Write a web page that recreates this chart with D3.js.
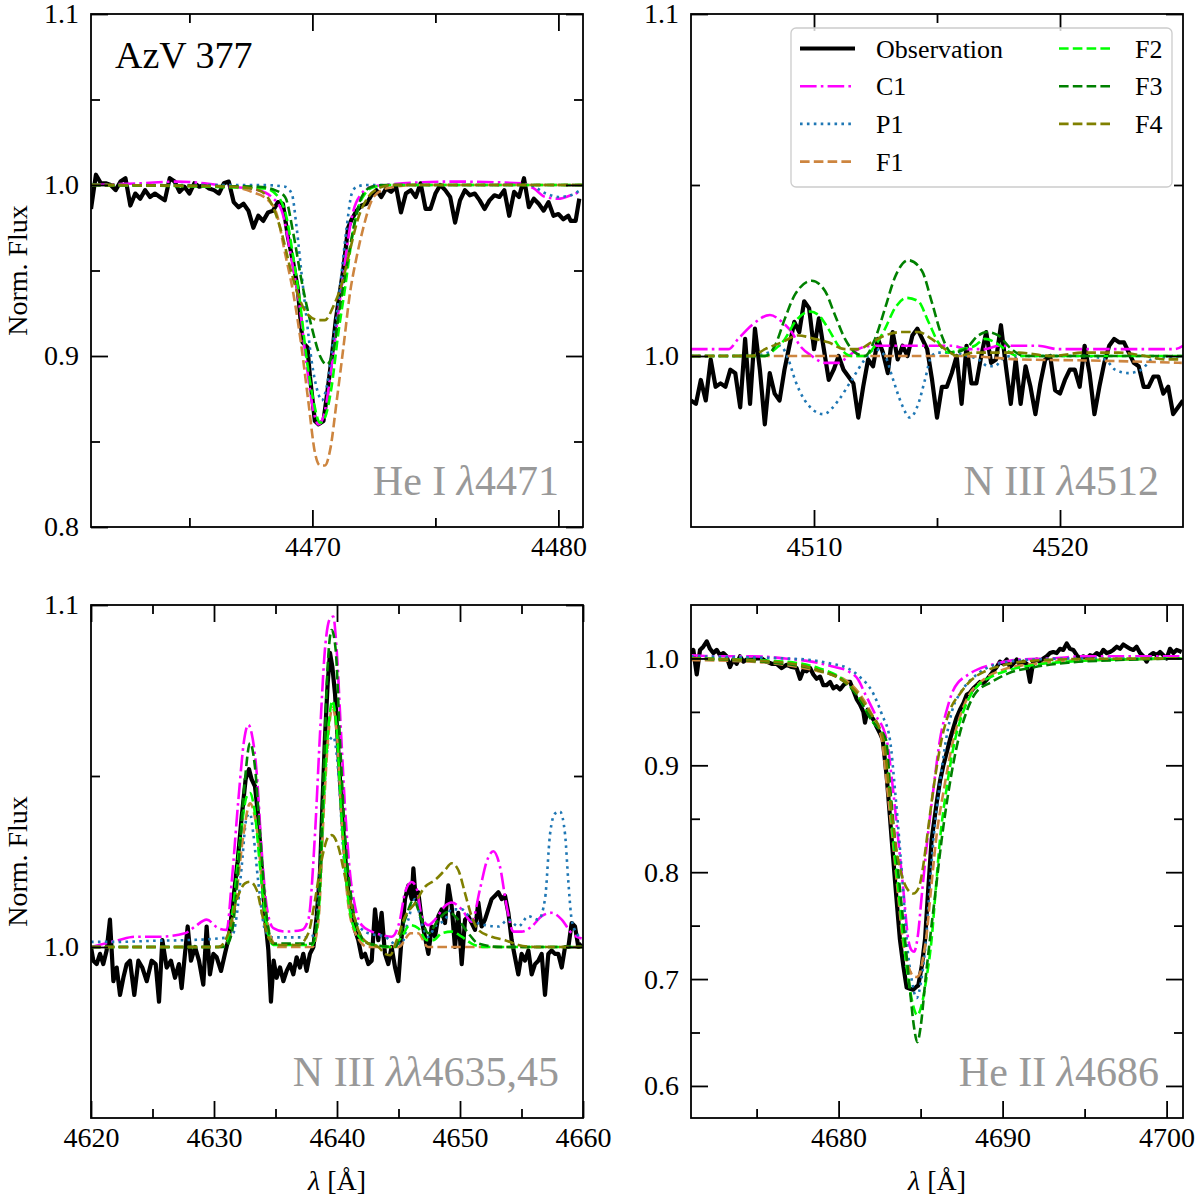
<!DOCTYPE html>
<html lang="en">
<head>
  <meta charset="utf-8">
  <title>AzV 377 line fits</title>
  <style>
    body { margin: 0; background: #fff; }
    svg text { font-family: "Liberation Serif", "Times New Roman", serif; }
  </style>
</head>
<body>
  <div id="chart"></div>

  <script src="https://d3js.org/d3.v7.min.js"></script>
  <script type="text/javascript">
    // ---------- He I 4471 ----------
    const obs4471 = [[4461.0,0.986],[4461.2,1.006],[4461.4,1.001],[4461.6,1.001],[4461.8,1.000],[4462.0,0.997],[4462.2,1.002],[4462.4,1.004],[4462.6,0.988],[4462.8,0.995],[4463.0,0.992],[4463.2,0.997],[4463.4,0.993],[4463.6,0.995],[4463.8,0.993],[4464.0,0.991],[4464.2,1.004],[4464.4,1.002],[4464.6,0.996],[4464.8,0.999],[4465.0,0.995],[4465.2,1.001],[4465.4,0.999],[4465.6,1.000],[4465.8,0.998],[4466.0,0.997],[4466.2,0.995],[4466.4,1.001],[4466.6,1.002],[4466.8,0.990],[4467.0,0.987],[4467.2,0.989],[4467.4,0.985],[4467.6,0.975],[4467.8,0.982],[4468.0,0.979],[4468.2,0.984],[4468.4,0.985],[4468.6,0.990],[4468.8,0.989],[4469.0,0.970],[4469.2,0.956],[4469.4,0.940],[4469.6,0.908],[4469.8,0.905],[4469.9,0.888],[4470.1,0.862],[4470.25,0.860],[4470.45,0.862],[4470.6,0.878],[4470.8,0.901],[4470.95,0.921],[4471.1,0.936],[4471.25,0.950],[4471.45,0.975],[4471.6,0.980],[4471.8,0.985],[4472.0,0.988],[4472.2,0.989],[4472.4,0.994],[4472.6,0.997],[4472.8,0.993],[4473.0,0.998],[4473.2,0.996],[4473.4,0.999],[4473.6,0.984],[4473.8,0.995],[4474.0,0.997],[4474.2,0.993],[4474.4,1.001],[4474.6,0.986],[4474.8,0.986],[4475.0,0.995],[4475.2,1.000],[4475.4,0.997],[4475.6,0.993],[4475.8,0.978],[4476.0,0.991],[4476.2,0.997],[4476.4,0.994],[4476.6,0.995],[4476.8,0.991],[4477.0,0.986],[4477.2,0.991],[4477.4,0.994],[4477.6,0.993],[4477.8,0.997],[4478.0,0.982],[4478.2,0.996],[4478.4,0.993],[4478.6,1.004],[4478.8,0.987],[4479.0,0.992],[4479.2,0.989],[4479.4,0.985],[4479.6,0.990],[4479.8,0.982],[4480.0,0.983],[4480.2,0.980],[4480.4,0.982],[4480.5,0.979],[4480.7,0.979],[4480.85,0.992]];
    const c1_4471 = [[4461.0,1.000],[4463.0,1.001],[4464.5,1.002],[4466.7,0.999],[4467.8,0.997],[4468.34,0.993],[4468.75,0.985],[4469.16,0.956],[4469.50,0.927],[4469.77,0.894],[4470.11,0.864],[4470.24,0.860],[4470.44,0.864],[4470.78,0.894],[4471.05,0.925],[4471.33,0.956],[4471.60,0.981],[4472.00,0.995],[4472.41,0.999],[4472.95,1.000],[4475.66,1.002],[4478.50,1.001],[4479.00,0.998],[4479.46,0.993],[4480.00,0.992],[4480.50,0.994],[4480.88,0.996]];
    const p1_4471 = [[4461.0,1.000],[4468.00,1.000],[4468.89,0.999],[4469.16,0.995],[4469.36,0.975],[4469.56,0.948],[4469.77,0.921],[4469.97,0.897],[4470.24,0.878],[4470.38,0.874],[4470.58,0.882],[4470.85,0.909],[4471.12,0.940],[4471.39,0.975],[4471.60,0.995],[4471.80,0.999],[4472.20,1.000],[4478.80,1.000],[4479.50,0.995],[4480.00,0.993],[4480.50,0.994],[4480.88,0.997]];
    const f1_4471 = [[4461.0,1.000],[4466.58,0.999],[4467.53,0.996],[4468.21,0.991],[4468.55,0.983],[4468.89,0.960],[4469.22,0.937],[4469.56,0.905],[4469.83,0.874],[4470.11,0.843],[4470.31,0.836],[4470.51,0.836],[4470.72,0.845],[4470.99,0.874],[4471.26,0.905],[4471.53,0.937],[4471.80,0.958],[4472.07,0.975],[4472.41,0.991],[4472.82,0.997],[4473.36,0.999],[4474.00,1.000],[4481.00,1.000]];
    const f2_4471 = [[4461.0,1.000],[4468.07,0.998],[4468.62,0.993],[4468.95,0.981],[4469.22,0.958],[4469.50,0.931],[4469.77,0.898],[4470.04,0.874],[4470.31,0.861],[4470.51,0.864],[4470.78,0.882],[4471.05,0.913],[4471.33,0.940],[4471.60,0.968],[4471.87,0.987],[4472.14,0.995],[4472.54,0.999],[4473.20,1.000],[4481.00,1.000]];
    const f3_4471 = [[4461.0,1.000],[4467.80,0.999],[4468.48,0.997],[4468.89,0.993],[4469.22,0.972],[4469.56,0.944],[4469.97,0.917],[4470.31,0.900],[4470.58,0.895],[4470.85,0.903],[4471.12,0.929],[4471.46,0.958],[4471.73,0.979],[4472.00,0.993],[4472.41,0.999],[4473.00,1.000],[4481.00,1.000]];
    const f4_4471 = [[4461.0,1.000],[4466.85,0.999],[4467.80,0.997],[4468.34,0.989],[4468.75,0.972],[4469.09,0.952],[4469.43,0.935],[4469.83,0.924],[4470.24,0.921],[4470.51,0.921],[4470.85,0.929],[4471.19,0.942],[4471.53,0.962],[4471.87,0.981],[4472.27,0.993],[4472.68,0.998],[4473.22,1.000],[4481.00,1.000]];

    // ---------- N III 4512 ----------
    const obs4512 = [[4505.0,0.987],[4505.2,0.986],[4505.4,0.993],[4505.6,0.987],[4505.8,0.999],[4506.0,0.991],[4506.2,0.992],[4506.4,0.991],[4506.6,0.996],[4506.8,0.995],[4507.0,0.985],[4507.2,1.005],[4507.4,0.986],[4507.6,1.008],[4507.8,0.996],[4508.0,0.980],[4508.2,0.995],[4508.4,0.989],[4508.6,0.987],[4508.8,0.996],[4509.0,1.003],[4509.2,1.010],[4509.4,1.007],[4509.6,1.016],[4509.8,1.014],[4510.0,1.002],[4510.2,1.011],[4510.4,1.002],[4510.6,0.993],[4510.8,0.996],[4511.0,1.000],[4511.2,0.996],[4511.4,0.994],[4511.6,0.992],[4511.8,0.982],[4512.0,0.991],[4512.2,0.999],[4512.4,0.997],[4512.6,1.005],[4512.8,1.001],[4513.0,0.995],[4513.2,1.007],[4513.4,0.999],[4513.6,1.003],[4513.8,1.000],[4514.0,1.006],[4514.2,1.008],[4514.4,1.005],[4514.6,1.002],[4514.8,0.993],[4515.0,0.982],[4515.2,0.991],[4515.4,0.991],[4515.6,0.995],[4515.8,1.000],[4516.0,0.986],[4516.2,1.003],[4516.4,0.992],[4516.6,0.992],[4516.8,1.000],[4517.0,1.007],[4517.2,0.998],[4517.4,0.999],[4517.6,1.009],[4517.8,0.997],[4518.0,0.986],[4518.2,0.999],[4518.4,0.986],[4518.6,0.997],[4518.8,0.991],[4519.0,0.983],[4519.2,0.992],[4519.4,0.999],[4519.6,1.000],[4519.8,0.990],[4520.0,0.989],[4520.2,0.993],[4520.4,0.996],[4520.6,0.996],[4520.8,0.991],[4521.0,1.003],[4521.2,0.995],[4521.4,0.983],[4521.6,0.991],[4521.8,0.998],[4522.0,1.003],[4522.2,1.005],[4522.4,1.004],[4522.6,1.004],[4522.8,1.001],[4523.0,0.998],[4523.2,0.997],[4523.4,0.991],[4523.6,0.991],[4523.8,0.994],[4524.0,0.994],[4524.2,0.989],[4524.4,0.991],[4524.6,0.983],[4524.8,0.985],[4525.0,0.987]];
    const c1_4512 = [[4505.0,1.002],[4506.52,1.002],[4506.92,1.005],[4507.47,1.009],[4508.21,1.012],[4508.69,1.010],[4509.09,1.007],[4509.43,1.003],[4509.91,1.000],[4510.45,0.998],[4510.99,0.998],[4511.40,1.000],[4511.80,1.002],[4512.34,1.003],[4513.16,1.003],[4514.24,1.003],[4515.05,1.003],[4515.60,1.003],[4516.27,1.002],[4516.95,1.002],[4517.49,1.003],[4518.31,1.003],[4519.12,1.003],[4519.93,1.002],[4521.02,1.002],[4522.37,1.002],[4523.73,1.002],[4524.67,1.002],[4525.0,1.003]];
    const p1_4512 = [[4505.0,1.000],[4507.47,1.000],[4508.14,1.001],[4508.62,1.003],[4508.96,0.999],[4509.23,0.993],[4509.63,0.987],[4510.38,0.983],[4510.99,0.987],[4511.53,0.993],[4512.07,0.999],[4512.48,1.002],[4512.89,1.000],[4513.22,0.993],[4513.56,0.986],[4513.90,0.982],[4514.24,0.986],[4514.51,0.993],[4514.78,1.000],[4515.05,1.001],[4515.60,1.001],[4516.27,1.000],[4516.68,0.999],[4517.09,0.997],[4517.36,0.997],[4517.63,0.999],[4518.03,1.000],[4521.02,1.000],[4521.83,0.999],[4522.24,0.996],[4522.78,0.995],[4523.32,0.996],[4523.73,0.999],[4524.95,1.000]];
    const f1_4512 = [[4505.0,1.000],[4510.0,1.000],[4516.0,1.000],[4516.95,0.9997],[4518.31,0.999],[4521.02,0.9987],[4523.0,0.9984],[4524.95,0.998]];
    const f2_4512 = [[4505.0,1.000],[4508.01,1.000],[4508.41,1.002],[4508.82,1.005],[4509.23,1.010],[4509.84,1.013],[4510.18,1.012],[4510.58,1.008],[4510.99,1.003],[4511.53,1.000],[4512.07,1.000],[4512.48,1.003],[4512.89,1.008],[4513.29,1.014],[4513.77,1.017],[4514.24,1.016],[4514.65,1.010],[4515.05,1.004],[4515.46,1.001],[4516.00,1.002],[4516.54,1.003],[4516.95,1.005],[4517.36,1.004],[4517.76,1.002],[4518.31,1.000],[4519.66,1.000],[4525.0,1.000]];
    const f3_4512 = [[4505.0,1.000],[4508.01,1.000],[4508.41,1.003],[4508.82,1.011],[4509.23,1.018],[4509.91,1.022],[4510.45,1.019],[4510.85,1.012],[4511.26,1.005],[4511.67,1.001],[4512.07,1.000],[4512.48,1.005],[4512.89,1.014],[4513.29,1.023],[4513.83,1.028],[4514.38,1.025],[4514.78,1.016],[4515.19,1.006],[4515.60,1.001],[4516.14,1.002],[4516.68,1.006],[4517.02,1.007],[4517.49,1.006],[4518.03,1.002],[4518.58,1.000],[4525.0,1.000]];
    const f4_4512 = [[4505.0,1.000],[4507.47,1.000],[4508.01,1.002],[4508.69,1.004],[4509.36,1.006],[4510.04,1.005],[4510.58,1.004],[4511.26,1.002],[4511.80,1.002],[4512.34,1.004],[4512.89,1.006],[4513.56,1.007],[4514.24,1.007],[4514.78,1.005],[4515.33,1.002],[4515.87,1.000],[4516.54,1.001],[4517.22,1.001],[4518.31,1.001],[4519.66,1.000],[4521.02,1.001],[4522.37,1.001],[4523.46,1.000],[4524.27,0.999],[4524.95,0.999]];

    // ---------- N III 4635,45 ----------
    const obs4640 = [[4620.00,1.000],[4620.19,0.996],[4620.46,0.995],[4620.73,0.998],[4621.00,0.995],[4621.27,0.999],[4621.54,1.008],[4621.82,0.990],[4622.09,0.994],[4622.36,0.986],[4622.63,0.991],[4622.90,0.995],[4623.17,0.996],[4623.52,0.986],[4623.85,0.996],[4624.17,0.994],[4624.53,0.990],[4624.93,0.996],[4625.26,0.995],[4625.53,0.984],[4625.80,1.002],[4626.15,0.994],[4626.50,0.996],[4626.83,0.991],[4627.15,0.995],[4627.37,0.988],[4627.64,0.998],[4627.86,1.006],[4628.13,0.996],[4628.46,1.000],[4628.78,0.996],[4629.13,0.989],[4629.40,1.006],[4629.67,0.992],[4629.95,0.998],[4630.22,0.997],[4630.57,0.993],[4630.89,0.998],[4631.22,1.003],[4631.57,1.014],[4631.92,1.025],[4632.25,1.038],[4632.57,1.049],[4632.85,1.052],[4633.06,1.049],[4633.33,1.047],[4633.60,1.038],[4633.88,1.023],[4634.15,1.009],[4634.42,0.999],[4634.63,0.984],[4634.85,0.996],[4635.09,0.991],[4635.37,0.994],[4635.64,0.990],[4635.91,0.993],[4636.18,0.995],[4636.45,0.992],[4636.72,0.997],[4636.99,0.994],[4637.26,0.998],[4637.53,0.993],[4637.80,0.998],[4638.08,1.000],[4638.35,1.009],[4638.62,1.022],[4638.81,1.041],[4639.02,1.061],[4639.24,1.077],[4639.43,1.086],[4639.62,1.082],[4639.84,1.074],[4640.05,1.061],[4640.24,1.049],[4640.43,1.038],[4640.65,1.027],[4640.92,1.016],[4641.19,1.010],[4641.46,1.005],[4641.73,1.002],[4642.01,0.997],[4642.28,0.998],[4642.55,0.995],[4642.82,0.996],[4643.09,1.011],[4643.36,1.002],[4643.63,1.010],[4643.90,0.998],[4644.17,0.995],[4644.44,1.000],[4644.72,0.994],[4644.99,0.990],[4645.26,1.003],[4645.53,1.014],[4645.80,1.018],[4646.07,1.014],[4646.21,1.023],[4646.40,1.014],[4646.61,1.016],[4646.88,1.008],[4647.15,1.003],[4647.43,0.998],[4647.70,1.006],[4647.97,1.003],[4648.24,1.009],[4648.51,1.011],[4648.78,1.007],[4649.05,1.018],[4649.32,1.012],[4649.59,1.000],[4649.86,1.010],[4650.14,0.995],[4650.41,1.008],[4650.68,1.009],[4650.95,1.007],[4651.22,1.005],[4651.49,1.013],[4651.76,1.006],[4652.03,1.008],[4652.30,1.011],[4652.57,1.014],[4652.85,1.015],[4653.12,1.016],[4653.39,1.014],[4653.66,1.015],[4653.93,1.010],[4654.20,1.002],[4654.47,0.997],[4654.74,0.992],[4655.01,0.998],[4655.28,0.996],[4655.56,0.999],[4655.83,0.992],[4656.10,0.995],[4656.37,0.996],[4656.64,0.998],[4656.91,0.986],[4657.18,0.998],[4657.45,0.999],[4657.72,0.998],[4657.99,0.998],[4658.27,0.994],[4658.54,1.000],[4658.81,1.000],[4659.08,1.007],[4659.35,1.006],[4659.62,1.000],[4659.89,1.001]];
    const c1_4640 = [[4620.00,1.000],[4621.14,1.001],[4622.22,1.002],[4623.58,1.003],[4625.47,1.003],[4627.64,1.004],[4628.46,1.006],[4629.40,1.008],[4630.35,1.0055],[4631.03,1.005],[4631.44,1.019],[4631.98,1.043],[4632.47,1.061],[4632.79,1.065],[4633.06,1.0625],[4633.47,1.051],[4633.88,1.028],[4634.28,1.012],[4634.82,1.0055],[4635.77,1.0045],[4637.13,1.005],[4637.67,1.008],[4638.21,1.033],[4638.62,1.0625],[4639.02,1.087],[4639.43,1.096],[4639.70,1.0966],[4639.97,1.087],[4640.33,1.0625],[4640.65,1.041],[4641.06,1.0215],[4641.46,1.012],[4642.01,1.0064],[4642.82,1.0045],[4643.63,1.0035],[4644.44,1.003],[4645.12,1.008],[4645.53,1.016],[4646.07,1.019],[4646.48,1.017],[4646.88,1.009],[4647.43,1.0064],[4647.97,1.008],[4648.78,1.012],[4649.32,1.013],[4650.14,1.011],[4650.95,1.0074],[4651.63,1.017],[4652.17,1.025],[4652.71,1.028],[4653.25,1.0235],[4653.79,1.012],[4654.34,1.0045],[4655.01,1.0045],[4655.83,1.006],[4656.64,1.009],[4657.45,1.010],[4658.27,1.008],[4659.08,1.004],[4659.89,1.0025]];
    const p1_4640 = [[4620.00,1.0015],[4622.22,1.0015],[4624.93,1.0018],[4627.64,1.002],[4630.35,1.0025],[4631.44,1.003],[4631.84,1.009],[4632.25,1.0235],[4632.66,1.038],[4632.93,1.039],[4633.20,1.033],[4633.60,1.019],[4634.15,1.005],[4634.69,1.0028],[4637.13,1.0028],[4638.21,1.0035],[4638.48,1.014],[4638.89,1.041],[4639.30,1.0596],[4639.70,1.0615],[4640.11,1.051],[4640.51,1.028],[4640.92,1.014],[4641.46,1.008],[4642.55,1.004],[4643.90,1.003],[4644.72,1.001],[4645.26,1.001],[4645.80,1.008],[4646.34,1.014],[4646.88,1.007],[4647.43,1.003],[4647.97,1.006],[4648.78,1.008],[4649.32,1.011],[4650.14,1.011],[4650.95,1.008],[4652.03,1.0064],[4653.12,1.006],[4653.93,1.008],[4654.74,1.006],[4655.56,1.009],[4656.37,1.008],[4656.91,1.014],[4657.32,1.033],[4657.72,1.039],[4658.13,1.0396],[4658.54,1.033],[4658.81,1.019],[4659.08,1.008],[4659.49,1.004],[4659.89,1.0025]];
    const f1_4640 = [[4620.00,1.000],[4630.60,1.000],[4631.20,1.002],[4631.80,1.015],[4632.40,1.033],[4632.93,1.042],[4633.50,1.034],[4634.00,1.016],[4634.60,1.003],[4635.20,1.000],[4638.00,1.000],[4638.50,1.008],[4638.90,1.038],[4639.30,1.062],[4639.62,1.070],[4640.00,1.062],[4640.40,1.036],[4640.90,1.013],[4641.50,1.004],[4642.50,1.000],[4645.00,1.000],[4646.00,1.004],[4646.60,1.004],[4647.40,1.000],[4659.89,1.000]];
    const f2_4640 = [[4620.00,1.000],[4630.35,1.000],[4631.03,1.001],[4631.57,1.012],[4632.11,1.031],[4632.66,1.044],[4632.93,1.045],[4633.33,1.039],[4633.74,1.0235],[4634.28,1.006],[4634.82,1.0006],[4637.94,1.0006],[4638.48,1.009],[4638.89,1.041],[4639.30,1.064],[4639.62,1.072],[4639.97,1.064],[4640.38,1.038],[4640.92,1.014],[4641.46,1.005],[4642.55,1.001],[4644.44,1.000],[4645.26,1.003],[4645.93,1.0064],[4646.61,1.0055],[4647.29,1.002],[4647.83,1.002],[4648.51,1.004],[4649.32,1.0045],[4650.14,1.003],[4650.95,1.001],[4652.03,1.000],[4654.74,1.000],[4659.89,1.000]];
    const f3_4640 = [[4620.00,1.000],[4630.89,1.000],[4631.44,1.004],[4631.98,1.0235],[4632.47,1.047],[4632.93,1.0596],[4633.33,1.0527],[4633.74,1.033],[4634.28,1.009],[4634.82,1.001],[4637.94,1.001],[4638.48,1.011],[4638.89,1.048],[4639.24,1.082],[4639.57,1.0927],[4639.89,1.087],[4640.24,1.0605],[4640.65,1.033],[4641.19,1.0137],[4641.73,1.005],[4642.55,1.001],[4644.72,1.000],[4645.53,1.008],[4646.21,1.0137],[4646.88,1.008],[4647.43,1.004],[4648.24,1.008],[4649.05,1.0103],[4649.86,1.008],[4650.68,1.004],[4651.49,1.001],[4653.39,1.000],[4659.89,1.000]];
    const f4_4640 = [[4620.00,1.000],[4630.35,1.000],[4631.17,1.004],[4631.84,1.0137],[4632.52,1.0186],[4632.93,1.0191],[4633.47,1.0167],[4634.01,1.008],[4634.55,1.002],[4635.23,1.0006],[4636.86,1.0006],[4637.67,1.004],[4638.21,1.0137],[4638.75,1.0254],[4639.30,1.0322],[4639.57,1.0327],[4640.11,1.0293],[4640.65,1.0206],[4641.19,1.0118],[4641.73,1.005],[4642.55,1.001],[4643.36,1.000],[4643.90,0.998],[4644.31,0.9976],[4644.85,1.002],[4645.53,1.0089],[4646.34,1.0128],[4647.15,1.0176],[4647.97,1.0196],[4648.78,1.0225],[4649.32,1.0245],[4649.86,1.0225],[4650.41,1.0157],[4650.95,1.0089],[4651.49,1.005],[4652.57,1.003],[4653.66,1.002],[4654.74,1.0006],[4656.10,1.000],[4659.89,1.000]];

    // ---------- He II 4686 ----------
    const obs4686 = [[4671.00,1.003],[4671.14,1.008],[4671.35,0.985],[4671.55,1.008],[4671.75,1.011],[4671.96,1.016],[4672.16,1.009],[4672.36,1.005],[4672.57,1.008],[4672.77,1.003],[4672.97,1.005],[4673.17,1.002],[4673.38,0.992],[4673.58,0.999],[4673.78,0.995],[4673.99,1.002],[4674.19,0.997],[4674.39,0.999],[4674.70,0.999],[4675.00,1.000],[4675.31,1.000],[4675.61,0.997],[4675.92,0.995],[4676.22,0.995],[4676.53,0.991],[4676.83,0.994],[4677.14,0.992],[4677.44,0.991],[4677.65,0.981],[4677.85,0.989],[4678.05,0.988],[4678.26,0.991],[4678.46,0.985],[4678.66,0.981],[4678.87,0.983],[4679.07,0.975],[4679.27,0.975],[4679.48,0.978],[4679.68,0.972],[4679.88,0.974],[4680.09,0.971],[4680.29,0.975],[4680.49,0.978],[4680.70,0.978],[4680.90,0.970],[4681.10,0.962],[4681.30,0.957],[4681.51,0.950],[4681.61,0.940],[4681.77,0.952],[4681.91,0.947],[4682.12,0.943],[4682.32,0.936],[4682.52,0.930],[4682.69,0.924],[4682.93,0.890],[4683.13,0.852],[4683.24,0.830],[4683.45,0.790],[4683.64,0.755],[4683.74,0.737],[4683.95,0.712],[4684.15,0.692],[4684.35,0.691],[4684.55,0.690],[4684.76,0.693],[4684.86,0.694],[4685.07,0.712],[4685.27,0.737],[4685.47,0.785],[4685.67,0.830],[4685.98,0.865],[4686.18,0.885],[4686.39,0.900],[4686.59,0.912],[4686.79,0.924],[4687.00,0.935],[4687.20,0.945],[4687.40,0.952],[4687.61,0.958],[4687.81,0.966],[4688.01,0.968],[4688.22,0.972],[4688.42,0.975],[4688.62,0.978],[4688.83,0.977],[4689.03,0.980],[4689.23,0.984],[4689.43,0.988],[4689.64,0.992],[4689.84,0.997],[4690.04,0.995],[4690.25,0.999],[4690.45,0.992],[4690.65,0.995],[4690.86,0.999],[4691.06,0.994],[4691.26,0.997],[4691.47,0.995],[4691.67,0.978],[4691.87,0.997],[4692.08,0.999],[4692.28,0.997],[4692.48,1.000],[4692.69,1.002],[4692.89,1.005],[4693.09,1.006],[4693.30,1.005],[4693.50,1.009],[4693.70,1.008],[4693.91,1.014],[4694.11,1.009],[4694.31,1.008],[4694.52,1.003],[4694.72,1.000],[4694.92,1.002],[4695.13,1.000],[4695.33,1.003],[4695.53,1.002],[4695.74,1.005],[4695.94,1.003],[4696.14,1.008],[4696.35,1.005],[4696.55,1.006],[4696.75,1.008],[4696.96,1.011],[4697.16,1.009],[4697.36,1.013],[4697.57,1.011],[4697.77,1.009],[4697.97,1.008],[4698.17,1.011],[4698.38,1.005],[4698.58,1.002],[4698.78,0.997],[4698.99,1.003],[4699.19,1.005],[4699.39,1.003],[4699.60,1.006],[4699.80,1.003],[4700.00,1.000],[4700.21,1.009],[4700.41,1.005],[4700.61,1.008],[4700.92,1.006]];
    const c1_4686 = [[4671.00,1.003],[4672.67,1.002],[4674.70,1.002],[4676.73,1.000],[4678.36,0.997],[4679.78,0.992],[4680.59,0.988],[4681.20,0.980],[4681.61,0.967],[4682.22,0.948],[4682.93,0.924],[4683.30,0.880],[4683.64,0.830],[4683.95,0.783],[4684.25,0.737],[4684.45,0.727],[4684.60,0.7256],[4684.80,0.737],[4685.10,0.783],[4685.41,0.830],[4685.80,0.880],[4686.18,0.924],[4686.60,0.952],[4687.00,0.9705],[4687.91,0.985],[4688.52,0.990],[4689.33,0.994],[4690.15,0.997],[4690.96,0.999],[4692.99,1.000],[4695.02,1.002],[4700.92,1.002]];
    const p1_4686 = [[4671.00,1.002],[4674.70,1.001],[4676.73,1.000],[4678.36,0.9985],[4679.58,0.995],[4680.39,0.992],[4681.20,0.984],[4682.12,0.967],[4682.63,0.948],[4683.13,0.924],[4683.45,0.875],[4683.70,0.830],[4683.95,0.780],[4684.15,0.737],[4684.45,0.700],[4684.76,0.6823],[4685.05,0.700],[4685.33,0.737],[4685.55,0.785],[4685.78,0.830],[4686.15,0.880],[4686.55,0.924],[4687.00,0.955],[4687.40,0.967],[4688.52,0.986],[4689.33,0.993],[4690.35,0.997],[4691.98,0.999],[4695.02,1.000],[4700.92,1.000]];
    const f1_4686 = [[4671.00,0.9985],[4674.70,0.997],[4676.73,0.994],[4678.76,0.988],[4680.39,0.980],[4681.41,0.964],[4682.10,0.945],[4682.63,0.924],[4682.95,0.880],[4683.30,0.830],[4683.60,0.783],[4683.91,0.737],[4684.25,0.712],[4684.55,0.703],[4684.76,0.702],[4684.95,0.705],[4685.15,0.720],[4685.33,0.737],[4685.63,0.783],[4685.94,0.830],[4686.45,0.880],[4687.00,0.924],[4687.50,0.950],[4688.00,0.967],[4688.52,0.976],[4689.33,0.985],[4690.35,0.991],[4691.98,0.995],[4694.01,0.998],[4697.06,0.999],[4700.92,1.000]];
    const f2_4686 = [[4671.00,1.000],[4676.73,0.997],[4678.76,0.991],[4680.19,0.981],[4681.20,0.964],[4682.02,0.942],[4682.83,0.924],[4683.10,0.878],[4683.34,0.830],[4683.65,0.783],[4683.95,0.737],[4684.25,0.700],[4684.55,0.675],[4684.80,0.666],[4685.05,0.675],[4685.35,0.700],[4685.67,0.737],[4685.92,0.783],[4686.18,0.830],[4686.60,0.880],[4687.10,0.924],[4687.60,0.950],[4688.10,0.967],[4688.52,0.975],[4689.33,0.983],[4690.35,0.989],[4691.98,0.994],[4694.01,0.997],[4697.06,0.999],[4700.92,1.000]];
    const f3_4686 = [[4671.00,1.000],[4676.73,0.995],[4678.76,0.989],[4680.19,0.980],[4681.20,0.964],[4682.02,0.942],[4682.89,0.924],[4683.15,0.878],[4683.44,0.830],[4683.75,0.783],[4684.05,0.737],[4684.35,0.690],[4684.60,0.655],[4684.80,0.641],[4685.00,0.655],[4685.30,0.700],[4685.57,0.737],[4685.92,0.783],[4686.28,0.830],[4686.75,0.880],[4687.30,0.924],[4687.80,0.950],[4688.32,0.967],[4689.33,0.978],[4690.35,0.986],[4691.98,0.992],[4694.01,0.996],[4697.06,0.9985],[4700.92,1.000]];
    const f4_4686 = [[4671.00,1.000],[4676.73,0.996],[4678.76,0.989],[4680.19,0.980],[4681.00,0.970],[4681.81,0.952],[4682.73,0.924],[4683.10,0.875],[4683.44,0.830],[4683.80,0.800],[4684.20,0.784],[4684.56,0.780],[4684.90,0.786],[4685.15,0.805],[4685.37,0.830],[4685.80,0.880],[4686.28,0.924],[4686.80,0.952],[4687.40,0.967],[4688.11,0.980],[4688.93,0.988],[4690.15,0.994],[4691.98,0.998],[4695.02,0.9995],[4700.92,1.000]];

    // ---------- panel settings ----------
    const seriesNames = ["Observation", "C1", "P1", "F1", "F2", "F3", "F4"];
    const panelData = [
      [obs4471, c1_4471, p1_4471, f1_4471, f2_4471, f3_4471, f4_4471],
      [obs4512, c1_4512, p1_4512, f1_4512, f2_4512, f3_4512, f4_4512],
      [obs4640, c1_4640, p1_4640, f1_4640, f2_4640, f3_4640, f4_4640],
      [obs4686, c1_4686, p1_4686, f1_4686, f2_4686, f3_4686, f4_4686]
    ];
    const lineLabels = [["He I ", "λ", "4471"], ["N III ", "λ", "4512"], ["N III ", "λλ", "4635,45"], ["He II ", "λ", "4686"]];
    const xDomains = [[4461, 4481], [4505, 4525], [4620, 4660], [4671, 4701]];
    const yDomains = [[0.8, 1.1], [0.95, 1.1], [0.95, 1.1], [0.57, 1.05]];
    const xMajorTicks = [[4470, 4480], [4510, 4520], [4620, 4630, 4640, 4650, 4660], [4680, 4690, 4700]];
    const xMinorTicks = [[4465, 4475], [4515], [4625, 4635, 4645, 4655], [4675, 4685, 4695]];
    const yMajorTicks = [[0.8, 0.9, 1.0, 1.1], [1.0, 1.1], [1.0, 1.1], [0.6, 0.7, 0.8, 0.9, 1.0]];
    const yMinorTicks = [[0.85, 0.95, 1.05], [1.05], [1.05], [0.65, 0.75, 0.85, 0.95]];

    // styles
    const colors = ["#000000", "#ff00ff", "#1f77b4", "#cd853f", "#00ff00", "#008000", "#808000"];
    const dashes = [null, "16.6,4.2,2.6,4.2", "2.6,4.3", "9.6,4.2", "9.6,4.2", "9.6,4.2", "9.6,4.2"];
    const widths = [4.2, 2.6, 2.6, 2.6, 2.6, 2.6, 2.6];

    const width = 1200;
    const height = 1200;
    const cellW = 492;
    const cellH = 513;
    const colX = [91, 691];
    const rowY = [14, 605];
    const tickFont = 28;

    const svg = d3.select("#chart").append("svg")
      .attr("width", width)
      .attr("height", height)
      .attr("viewBox", [0, 0, width, height]);

    svg.append("rect").attr("width", width).attr("height", height).attr("fill", "#fff");

    // d3 puts font-size 10 on the axis group, so set ours after the call
    const styleTicks = (g) => {
      g.attr("font-size", tickFont).attr("font-family", null);
      g.select(".domain").remove();
      g.selectAll(".tick line").attr("stroke", "#000").attr("stroke-width", 1.8);
      g.selectAll(".tick text").attr("fill", "#000");
    };

    panelData.forEach((series, i) => {
      const left = colX[i % 2];
      const top = rowY[Math.floor(i / 2)];
      const x = d3.scaleLinear().domain(xDomains[i]).range([0, cellW]);
      const y = d3.scaleLinear().domain(yDomains[i]).range([cellH, 0]);

      const g = svg.append("g").attr("transform", `translate(${left},${top})`);

      g.append("clipPath").attr("id", "clip" + i)
        .append("rect").attr("width", cellW).attr("height", cellH);

      const plot = g.append("g").attr("clip-path", `url(#clip${i})`);

      const obsLine = d3.line().x(d => x(d[0])).y(d => y(d[1]));
      const modelLine = d3.line().x(d => x(d[0])).y(d => y(d[1])).curve(d3.curveMonotoneX);

      series.forEach((pts, k) => {
        plot.append("path")
          .datum(pts)
          .attr("d", k === 0 ? obsLine : modelLine)
          .attr("fill", "none")
          .attr("stroke", colors[k])
          .attr("stroke-width", widths[k])
          .attr("stroke-linejoin", "round")
          .attr("stroke-dasharray", dashes[k]);
      });

      // ticks, pointing inward on every side
      g.append("g").attr("transform", `translate(0,${cellH})`)
        .call(d3.axisBottom(x).tickValues(xMajorTicks[i]).tickSize(-17).tickPadding(9).tickFormat(d3.format("d")))
        .call(styleTicks);
      g.append("g").attr("transform", `translate(0,${cellH})`)
        .call(d3.axisBottom(x).tickValues(xMinorTicks[i]).tickSize(-9).tickFormat(""))
        .call(styleTicks);
      g.append("g")
        .call(d3.axisTop(x).tickValues(xMajorTicks[i]).tickSize(-17).tickFormat(""))
        .call(styleTicks);
      g.append("g")
        .call(d3.axisTop(x).tickValues(xMinorTicks[i]).tickSize(-9).tickFormat(""))
        .call(styleTicks);

      g.append("g")
        .call(d3.axisLeft(y).tickValues(yMajorTicks[i]).tickSize(-17).tickPadding(12).tickFormat(d3.format(".1f")))
        .call(styleTicks);
      g.append("g")
        .call(d3.axisLeft(y).tickValues(yMinorTicks[i]).tickSize(-9).tickFormat(""))
        .call(styleTicks);
      g.append("g").attr("transform", `translate(${cellW},0)`)
        .call(d3.axisRight(y).tickValues(yMajorTicks[i]).tickSize(-17).tickFormat(""))
        .call(styleTicks);
      g.append("g").attr("transform", `translate(${cellW},0)`)
        .call(d3.axisRight(y).tickValues(yMinorTicks[i]).tickSize(-9).tickFormat(""))
        .call(styleTicks);

      g.append("rect")
        .attr("width", cellW)
        .attr("height", cellH)
        .attr("fill", "none")
        .attr("stroke", "#000")
        .attr("stroke-width", 1.8);

      // line identification
      const lab = g.append("text")
        .attr("x", cellW - 24)
        .attr("y", cellH - 32)
        .attr("text-anchor", "end")
        .attr("font-size", 42)
        .attr("fill", "#999999");
      lab.append("tspan").text(lineLabels[i][0]);
      lab.append("tspan").attr("font-style", "italic").text(lineLabels[i][1]);
      lab.append("tspan").text(lineLabels[i][2]);

      if (i % 2 === 0) {
        svg.append("text")
          .attr("transform", `translate(27,${top + cellH / 2}) rotate(-90)`)
          .attr("text-anchor", "middle")
          .attr("font-size", tickFont)
          .text("Norm. Flux");
      }
      if (i >= 2) {
        const xl = svg.append("text")
          .attr("x", left + cellW / 2)
          .attr("y", 1190)
          .attr("text-anchor", "middle")
          .attr("font-size", tickFont);
        xl.append("tspan").attr("font-style", "italic").text("λ");
        xl.append("tspan").text(" [Å]");
      }
      if (i === 0) {
        g.append("text")
          .attr("x", 24)
          .attr("y", 54)
          .attr("font-size", 38)
          .text("AzV 377");
      }
      if (i === 1) {
        const leg = g.append("g");
        leg.append("rect")
          .attr("x", 100).attr("y", 14)
          .attr("width", 381).attr("height", 159)
          .attr("rx", 5)
          .attr("fill", "#fff").attr("fill-opacity", 0.8)
          .attr("stroke", "#cccccc").attr("stroke-width", 1.3);
        seriesNames.forEach((name, k) => {
          const col = k < 4 ? 0 : 1;
          const row = k < 4 ? k : k - 4;
          const ly = 34.5 + row * 37.7;
          const lx = col === 0 ? 109 : 368;
          leg.append("line")
            .attr("x1", lx).attr("x2", lx + 55)
            .attr("y1", ly).attr("y2", ly)
            .attr("stroke", colors[k])
            .attr("stroke-width", widths[k])
            .attr("stroke-dasharray", dashes[k]);
          leg.append("text")
            .attr("x", lx + 76)
            .attr("y", ly + 9)
            .attr("font-size", 26)
            .text(name);
        });
      }
    });
  </script>
</body>
</html>
